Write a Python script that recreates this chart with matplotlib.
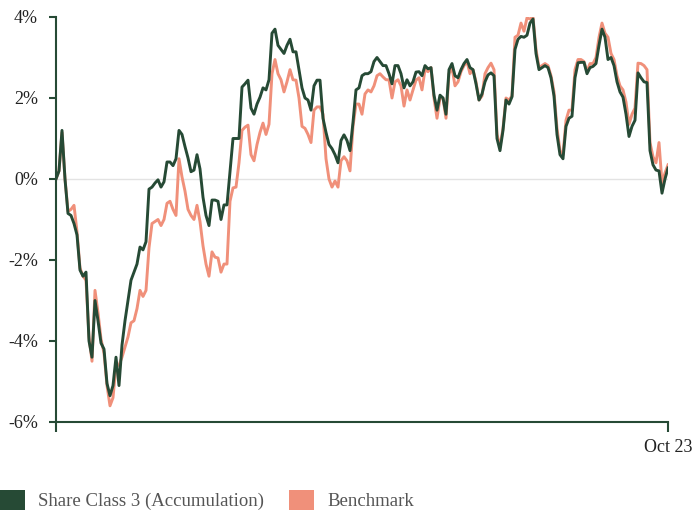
import numpy as np
import matplotlib
matplotlib.use("Agg")
import matplotlib.pyplot as plt
from matplotlib.patches import Patch
from matplotlib.ticker import FuncFormatter

# cumulative relative performance (%), one value per period
fund = [
    0.00, 0.20, 1.20, 0.00, -0.85, -0.90, -1.10, -1.38, -2.25, -2.40,
    -2.30, -4.00, -4.40, -3.00, -3.50, -4.05, -4.20, -5.05, -5.35, -5.10,
    -4.40, -5.10, -4.10, -3.50, -3.00, -2.50, -2.30, -2.10, -1.68, -1.75,
    -1.55, -0.25, -0.20, -0.10, -0.02, -0.20, -0.07, 0.42, 0.42, 0.33,
    0.50, 1.20, 1.10, 0.80, 0.52, 0.18, 0.22, 0.60, 0.25, -0.45,
    -0.90, -1.15, -0.52, -0.52, -0.55, -1.00, -0.64, -0.64, 0.17, 1.00,
    1.00, 1.00, 2.27, 2.35, 2.44, 1.75, 1.60, 1.85, 2.02, 2.25,
    2.20, 2.45, 3.60, 3.70, 3.30, 3.20, 3.10, 3.30, 3.45, 3.14,
    3.14, 2.70, 2.25, 2.00, 1.95, 1.70, 2.30, 2.44, 2.44, 1.50,
    1.15, 0.85, 0.75, 0.60, 0.40, 0.95, 1.09, 0.95, 0.70, 1.40,
    2.20, 2.25, 2.55, 2.60, 2.60, 2.65, 2.90, 3.00, 2.90, 2.80,
    2.80, 2.60, 2.35, 2.80, 2.80, 2.60, 2.25, 2.45, 2.30, 2.40,
    2.64, 2.65, 2.55, 2.80, 2.72, 2.75, 2.07, 1.70, 2.07, 2.00,
    1.60, 2.70, 2.85, 2.55, 2.50, 2.70, 2.85, 2.95, 2.75, 2.70,
    2.35, 1.95, 2.10, 2.40, 2.57, 2.62, 2.55, 1.00, 0.70, 1.20,
    1.95, 1.85, 2.03, 3.20, 3.45, 3.52, 3.50, 3.55, 3.85, 3.95,
    3.10, 2.70, 2.75, 2.80, 2.75, 2.50, 2.05, 1.10, 0.60, 0.50,
    1.30, 1.50, 1.55, 2.50, 2.87, 2.88, 2.88, 2.60, 2.75, 2.78,
    2.85, 3.30, 3.70, 3.50, 2.95, 3.00, 2.80, 2.40, 2.15, 2.02,
    1.60, 1.05, 1.30, 1.45, 2.62, 2.50, 2.40, 2.38, 0.70, 0.35,
    0.22, 0.20, -0.35, 0.00, 0.27,
]
benchmark = [
    0.00, 0.20, 1.15, 0.00, -0.80, -0.75, -0.65, -1.30, -2.20, -2.40,
    -2.50, -3.90, -4.50, -2.75, -3.30, -3.95, -4.30, -5.10, -5.60, -5.40,
    -4.60, -4.60, -4.40, -4.15, -3.90, -3.55, -3.50, -3.20, -2.75, -2.90,
    -2.75, -1.70, -1.10, -1.05, -1.00, -1.15, -1.00, -0.60, -0.55, -0.75,
    -0.90, 0.50, 0.05, -0.30, -0.75, -0.90, -1.00, -0.65, -1.05, -1.65,
    -2.10, -2.40, -1.80, -1.93, -1.95, -2.30, -2.10, -2.10, -0.55, -0.22,
    -0.20, 0.40, 1.20, 1.28, 1.33, 0.60, 0.45, 0.85, 1.15, 1.38,
    1.10, 1.35, 2.60, 2.95, 2.60, 2.45, 2.15, 2.40, 2.70, 2.45,
    2.44, 2.00, 1.30, 1.25, 1.10, 0.90, 1.70, 1.78, 1.78, 1.60,
    0.50, 0.00, -0.20, -0.05, -0.20, 0.45, 0.55, 0.45, 0.20, 1.30,
    1.85, 1.85, 1.60, 2.10, 2.20, 2.15, 2.30, 2.55, 2.60, 2.52,
    2.45, 2.45, 2.00, 2.40, 2.45, 2.30, 1.80, 2.20, 1.95, 2.20,
    2.44, 2.50, 2.20, 2.70, 2.65, 2.75, 2.00, 1.50, 2.00, 2.00,
    1.50, 2.60, 2.75, 2.30, 2.40, 2.65, 2.80, 2.90, 2.60, 2.70,
    2.40, 1.95, 2.05, 2.60, 2.75, 2.86, 2.70, 1.10, 0.80, 1.25,
    2.00, 1.95, 2.05, 3.50, 3.55, 3.85, 3.65, 3.98, 3.95, 4.00,
    3.20, 2.75, 2.80, 2.85, 2.80, 2.55, 2.15, 1.25, 0.70, 0.60,
    1.45, 1.70, 1.70, 2.70, 2.95, 2.95, 2.90, 2.65, 2.85, 2.85,
    3.00, 3.50, 3.85, 3.60, 3.50, 3.10, 2.95, 2.55, 2.30, 2.20,
    1.90, 1.35, 1.60, 1.75, 2.86, 2.85, 2.80, 2.70, 0.90, 0.55,
    0.40, 0.90, -0.10, 0.15, 0.35,
]
series_names = ["Share Class 3 (Accumulation)", "Benchmark"]
y_ticks = [-6, -4, -2, 0, 2, 4]
x_tick_labels = ["", "Oct 23"]

green = "#264a35"
salmon = "#f0907a"
plt.rcParams["font.family"] = ["Liberation Serif", "DejaVu Serif"]

x = np.arange(len(fund))

fig = plt.figure(figsize=(6.94, 5.13), dpi=100)
ax = fig.add_axes([56 / 694, 1 - 422 / 513, 612 / 694, 405 / 513])

ax.axhline(0, color="#e3e3e3", linewidth=1, zorder=1)
ax.plot(x, benchmark, color=salmon, linewidth=2.1, zorder=2)
ax.plot(x, fund, color=green, linewidth=2.1, zorder=3)

ax.set_xlim(0, len(fund) - 1)
ax.set_ylim(-6, 4)
ax.set_yticks(y_ticks)
ax.yaxis.set_major_formatter(FuncFormatter(lambda v, p: f"{v:.0f}%"))
ax.set_xticks([0, len(fund) - 1])
ax.set_xticklabels(x_tick_labels)

for side in ["top", "right"]:
    ax.spines[side].set_visible(False)
for side in ["left", "bottom"]:
    ax.spines[side].set_color(green)
    ax.spines[side].set_linewidth(1.5)

ax.tick_params(axis="y", direction="out", length=5, width=1.5, color=green,
               labelsize=13, labelcolor="#222222", pad=8)
ax.tick_params(axis="x", direction="out", length=7.5, width=1.5, color=green,
               labelsize=13, labelcolor="#222222", pad=5)

handles = [Patch(facecolor=green, edgecolor="none"),
           Patch(facecolor=salmon, edgecolor="none")]
fig.legend(handles, series_names, loc="lower left", bbox_to_anchor=(0, 0.005),
           ncol=2, frameon=False, fontsize=13.5, labelcolor="#555555",
           handlelength=1.35, handleheight=1.25, handletextpad=0.7,
           columnspacing=1.3, borderpad=0, borderaxespad=0)

fig.savefig("out.png", dpi=100)
